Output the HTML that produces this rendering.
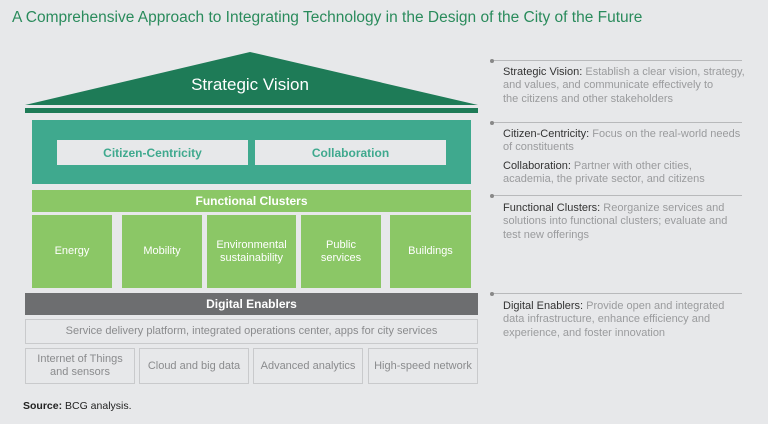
<!DOCTYPE html>
<html><head><style>
body{margin:0;width:768px;height:424px;background:#e7e8ea;font-family:"Liberation Sans",sans-serif;position:relative;overflow:hidden}
.a{position:absolute;box-sizing:border-box}
.c{display:flex;align-items:center;justify-content:center;text-align:center}
.col{background:#8bc766;color:#fff;font-size:11px;line-height:13px}
.bx{border:1px solid #c9cacc;color:#8a8b8d;font-size:11px;line-height:13px}
.r{position:absolute;left:503px;width:250px;font-size:11px;line-height:13.3px;color:#9a9b9d}
.r b{color:#333;font-weight:normal}
.ln{position:absolute;left:492px;width:250px;height:1px;background:#b8b9bb}
.dot{position:absolute;left:490px;width:4px;height:4px;border-radius:2px;background:#888;margin-top:-1.5px}
</style></head><body>
<div class="a" style="left:12px;top:9px;font-size:15.5px;color:#2a8b5c">A Comprehensive Approach to Integrating Technology in the Design of the City of the Future</div>
<svg class="a" style="left:0;top:0" width="480" height="120"><polygon points="250,52 25,105 478,105" fill="#1e7b57"/><rect x="25" y="108" width="453" height="5" fill="#1e7b57"/></svg>
<div class="a c" style="left:150px;top:75px;width:200px;font-size:17px;color:#fff">Strategic Vision</div>
<div class="a" style="left:32px;top:120px;width:439px;height:64px;background:#3fa98e"></div>
<div class="a c" style="left:57px;top:140px;width:191px;height:25px;background:#e7e8ea;color:#3fa98e;font-weight:bold;font-size:12px">Citizen-Centricity</div>
<div class="a c" style="left:255px;top:140px;width:191px;height:25px;background:#e7e8ea;color:#3fa98e;font-weight:bold;font-size:12px">Collaboration</div>
<div class="a c" style="left:32px;top:190px;width:439px;height:22px;background:#8bc766;color:#fff;font-weight:bold;font-size:12px">Functional Clusters</div>
<div class="a c col" style="left:32px;top:215px;width:80px;height:73px">Energy</div>
<div class="a c col" style="left:122px;top:215px;width:80px;height:73px">Mobility</div>
<div class="a c col" style="left:207px;top:215px;width:89px;height:73px">Environmental<br>sustainability</div>
<div class="a c col" style="left:301px;top:215px;width:80px;height:73px">Public<br>services</div>
<div class="a c col" style="left:390px;top:215px;width:81px;height:73px">Buildings</div>
<div class="a c" style="left:25px;top:293px;width:453px;height:22px;background:#6d6e70;color:#fff;font-weight:bold;font-size:12px">Digital Enablers</div>
<div class="a c bx" style="left:25px;top:319px;width:453px;height:25px">Service delivery platform, integrated operations center, apps for city services</div>
<div class="a c bx" style="left:25px;top:348px;width:110px;height:36px">Internet of Things<br>and sensors</div>
<div class="a c bx" style="left:139px;top:348px;width:110px;height:36px">Cloud and big data</div>
<div class="a c bx" style="left:253px;top:348px;width:110px;height:36px">Advanced analytics</div>
<div class="a c bx" style="left:368px;top:348px;width:110px;height:36px">High-speed network</div>
<div class="a" style="left:23px;top:400px;font-size:10.5px;color:#222"><b>Source:</b> BCG analysis.</div>
<div class="ln" style="top:60px"></div><div class="dot" style="top:60px"></div>
<div class="r" style="top:66px"><b>Strategic Vision:</b> Establish a clear vision, strategy,<br>and values, and communicate effectively to<br>the citizens and other stakeholders</div>
<div class="ln" style="top:122px"></div><div class="dot" style="top:122px"></div>
<div class="r" style="top:128px"><b>Citizen-Centricity:</b> Focus on the real-world needs<br>of constituents</div>
<div class="r" style="top:160px"><b>Collaboration:</b> Partner with other cities,<br>academia, the private sector, and citizens</div>
<div class="ln" style="top:195px"></div><div class="dot" style="top:195px"></div>
<div class="r" style="top:202px"><b>Functional Clusters:</b> Reorganize services and<br>solutions into functional clusters; evaluate and<br>test new offerings</div>
<div class="ln" style="top:293px"></div><div class="dot" style="top:293px"></div>
<div class="r" style="top:300px"><b>Digital Enablers:</b> Provide open and integrated<br>data infrastructure, enhance efficiency and<br>experience, and foster innovation</div>
</body></html>
